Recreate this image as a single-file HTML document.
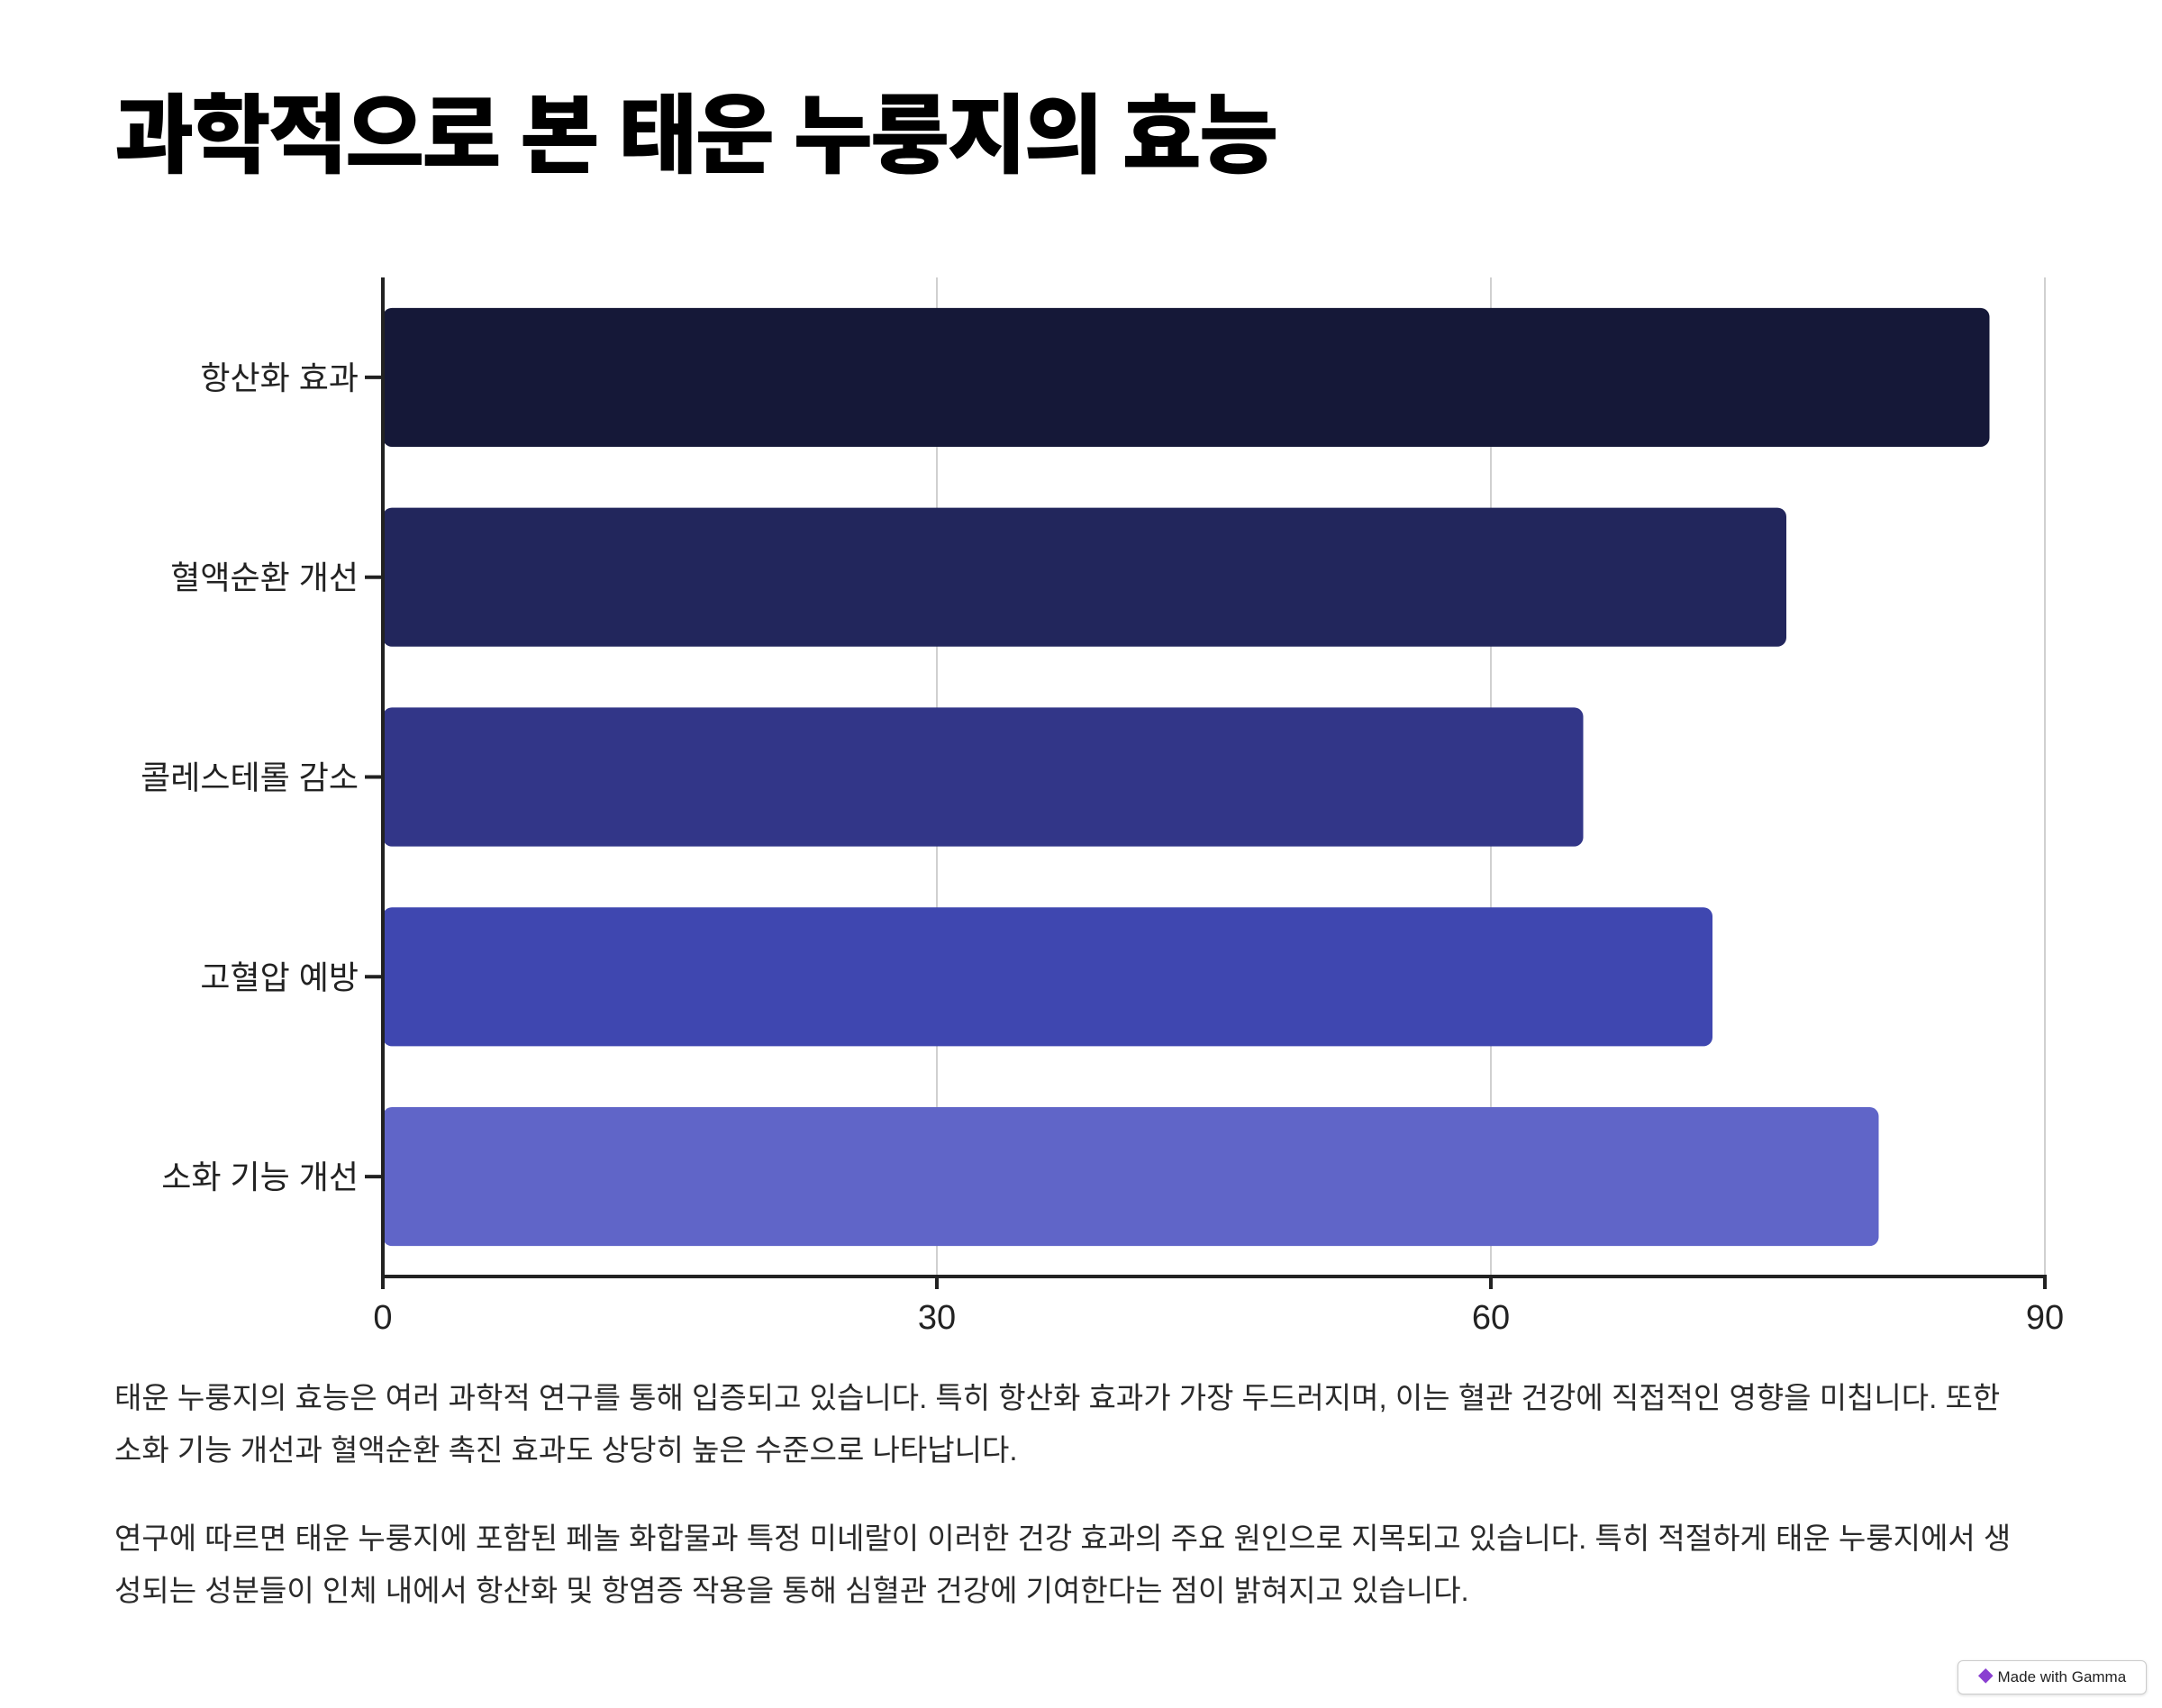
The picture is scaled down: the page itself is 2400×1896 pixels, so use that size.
<!DOCTYPE html>
<html><head><meta charset="utf-8">
<style>
body{margin:0;width:2400px;height:1896px;background:#fff;font-family:"Liberation Sans","Noto Sans CJK KR",sans-serif;position:relative;overflow:hidden;color:#222}
h1{position:absolute;left:127px;top:90px;margin:0;font-size:96px;font-weight:900;letter-spacing:-3px;color:#000;line-height:1.3}
.p{position:absolute;left:127px;width:2130px;font-size:33px;line-height:58px;color:#2a2a2a;margin:0}
.badge{position:absolute;left:2173px;top:1843px;width:208px;height:36px;border:1px solid #ccc;border-radius:6px;font-size:17px;line-height:36px;text-align:center;box-shadow:0 1px 3px rgba(0,0,0,.15)}
</style></head><body>
<h1>과학적으로 본 태운 누룽지의 효능</h1>
<svg id="chart" width="2400" height="1500" style="position:absolute;left:0;top:0"></svg>
<p class="p" style="top:1523px">태운 누룽지의 효능은 여러 과학적 연구를 통해 입증되고 있습니다. 특히 항산화 효과가 가장 두드러지며, 이는 혈관 건강에 직접적인 영향을 미칩니다. 또한 소화 기능 개선과 혈액순환 촉진 효과도 상당히 높은 수준으로 나타납니다.</p>
<p class="p" style="top:1679px">연구에 따르면 태운 누룽지에 포함된 페놀 화합물과 특정 미네랄이 이러한 건강 효과의 주요 원인으로 지목되고 있습니다. 특히 적절하게 태운 누룽지에서 생성되는 성분들이 인체 내에서 항산화 및 항염증 작용을 통해 심혈관 건강에 기여한다는 점이 밝혀지고 있습니다.</p>
<div class="badge"><span style="color:#8a3fd1">◆</span> Made with Gamma</div>
<script>
const categories=["항산화 효과","혈액순환 개선","콜레스테롤 감소","고혈압 예방","소화 기능 개선"];
const values=[87,76,65,72,81];
const colors=["#151838","#22265c","#323688","#3f47b0","#6065c8"];
const ticks=[0,30,60,90];
const NS="http://www.w3.org/2000/svg",svg=document.getElementById('chart');
const x0=425,x1=2270,yTop=308,yBot=1417,maxV=90;
const xs=v=>x0+(x1-x0)*v/maxV;
const band=(yBot-yTop)/categories.length;
function el(t,a){const e=document.createElementNS(NS,t);for(const k in a)e.setAttribute(k,a[k]);svg.appendChild(e);return e;}
ticks.forEach(t=>{if(t>0){const g=el('line',{x1:xs(t),x2:xs(t),y1:yTop,y2:yBot,stroke:'#d0d0d0','stroke-width':2});

}
const tl=el('line',{x1:xs(t),x2:xs(t),y1:yBot,y2:yBot+14,stroke:'#222','stroke-width':4});


const tx=el('text',{x:xs(t),y:1475,'text-anchor':'middle','font-size':38,fill:'#222'});tx.textContent=t;

});
categories.forEach((c,i)=>{const yc=yTop+band*(i+0.5),h=band*0.695;
const r=el('rect',{x:x0,y:yc-h/2,width:xs(values[i])-x0,height:h,rx:10,fill:colors[i]});


const tk=el('line',{x1:405,x2:x0,y1:yc,y2:yc,stroke:'#222','stroke-width':4});


const t=el('text',{x:398,y:yc+13,'text-anchor':'end','font-size':36,fill:'#222'});t.textContent=c;

});
const ya=el('line',{x1:x0,x2:x0,y1:yTop,y2:yBot+2,stroke:'#222','stroke-width':4});


const xa=el('line',{x1:x0-2,x2:x1+2,y1:yBot,y2:yBot,stroke:'#222','stroke-width':4});


</script>
</body></html>
